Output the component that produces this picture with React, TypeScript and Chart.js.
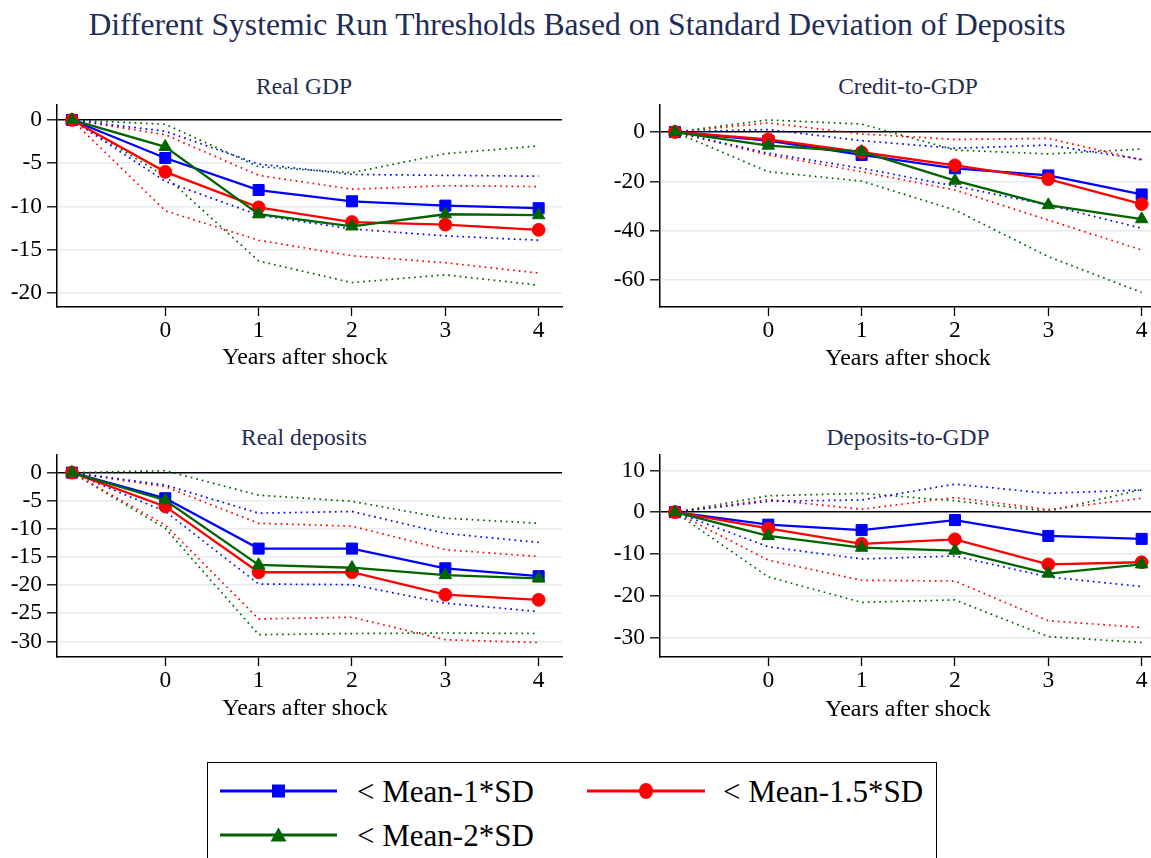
import React, { useEffect, useRef } from "react";
import { Chart, registerables } from "chart.js";

Chart.register(...registerables);

// ---------- data ----------
const years = [-1, 0, 1, 2, 3, 4];
const xTickValues = [0, 1, 2, 3, 4];

const seriesLabels = ["< Mean-1*SD", "< Mean-1.5*SD", "< Mean-2*SD"];
const mainTitle = "Different Systemic Run Thresholds Based on Standard Deviation of Deposits";
const xAxisTitle = "Years after shock";

// Real GDP
const gdpTicks = [0, -5, -10, -15, -20];
const gdpSD1 = [0, -4.4, -8.1, -9.4, -9.9, -10.2];
const gdpSD15 = [0, -6.0, -10.1, -11.8, -12.1, -12.7];
const gdpSD2 = [0, -3.1, -10.9, -12.3, -10.9, -11.0];
const gdpSD1Hi = [0, -1.3, -5.1, -6.3, -6.4, -6.5];
const gdpSD1Lo = [0, -7.1, -11.0, -12.6, -13.4, -13.9];
const gdpSD15Hi = [0, -1.7, -6.4, -8.0, -7.6, -7.7];
const gdpSD15Lo = [0, -10.5, -13.9, -15.7, -16.5, -17.7];
const gdpSD2Hi = [0, -0.5, -5.4, -6.1, -3.9, -3.0];
const gdpSD2Lo = [0, -6.5, -16.3, -18.8, -17.9, -19.1];

// Credit-to-GDP
const credTicks = [0, -20, -40, -60];
const credSD1 = [0, -3.5, -9.3, -14.7, -17.6, -25.3];
const credSD15 = [0, -3.0, -8.2, -13.5, -19.1, -29.2];
const credSD2 = [0, -5.5, -8.0, -19.7, -29.6, -35.3];
const credSD1Hi = [0, 1.0, -3.5, -6.6, -5.3, -11.1];
const credSD1Lo = [0, -8.6, -14.7, -21.9, -29.6, -39.0];
const credSD15Hi = [0, 3.7, -0.8, -3.0, -2.6, -11.4];
const credSD15Lo = [0, -9.3, -16.1, -23.5, -35.7, -47.8];
const credSD2Hi = [0, 4.9, 3.2, -7.3, -8.9, -6.9];
const credSD2Lo = [0, -16.1, -19.9, -31.6, -50.5, -65.0];

// Real deposits
const depTicks = [0, -5, -10, -15, -20, -25, -30];
const depSD1 = [0, -4.55, -13.5, -13.5, -17.0, -18.4];
const depSD15 = [0, -6.0, -17.7, -17.7, -21.7, -22.6];
const depSD2 = [0, -4.9, -16.4, -16.9, -18.2, -18.8];
const depSD1Hi = [0, -2.2, -7.2, -6.9, -10.8, -12.4];
const depSD1Lo = [0, -6.9, -19.8, -19.9, -23.2, -24.7];
const depSD15Hi = [0, -2.5, -9.0, -9.5, -13.7, -14.9];
const depSD15Lo = [0, -9.3, -26.0, -25.7, -29.7, -30.2];
const depSD2Hi = [0, 0.35, -4.0, -5.1, -8.1, -9.0];
const depSD2Lo = [0, -9.9, -28.8, -28.6, -28.5, -28.6];

// Deposits-to-GDP
const dgdpTicks = [10, 0, -10, -20, -30];
const dgdpSD1 = [0, -3.0, -4.3, -1.9, -5.7, -6.4];
const dgdpSD15 = [0, -3.9, -7.6, -6.5, -12.5, -12.0];
const dgdpSD2 = [0, -5.7, -8.5, -9.2, -14.7, -12.5];
const dgdpSD1Hi = [0, 2.6, 2.9, 6.7, 4.5, 5.3];
const dgdpSD1Lo = [0, -8.3, -11.2, -10.5, -15.5, -17.8];
const dgdpSD15Hi = [0, 3.0, 0.7, 3.5, 0.6, 3.3];
const dgdpSD15Lo = [0, -11.5, -16.3, -16.5, -26.0, -27.6];
const dgdpSD2Hi = [0, 3.9, 4.5, 2.7, 0.2, 5.4];
const dgdpSD2Lo = [0, -15.5, -21.6, -21.0, -29.8, -31.2];

// ---------- style ----------
const BLUE = "#0000ff";
const RED = "#ff0000";
const GREEN = "#006400";
const NAVY = "#1f2d55";
const GRID = "#e4ecef";
const FONT = "'Liberation Serif', 'Times New Roman', serif";
const X_MIN = -1.16;
const X_MAX = 4.25;

type PanelSpec = {
  title: string;
  ticks: number[];
  yMin: number;
  yMax: number;
  sd1: number[];
  sd15: number[];
  sd2: number[];
  sd1Hi: number[];
  sd1Lo: number[];
  sd15Hi: number[];
  sd15Lo: number[];
  sd2Hi: number[];
  sd2Lo: number[];
};

const panels: PanelSpec[] = [
  { title: "Real GDP", ticks: gdpTicks, yMin: -21.62, yMax: 1.73, sd1: gdpSD1, sd15: gdpSD15, sd2: gdpSD2, sd1Hi: gdpSD1Hi, sd1Lo: gdpSD1Lo, sd15Hi: gdpSD15Hi, sd15Lo: gdpSD15Lo, sd2Hi: gdpSD2Hi, sd2Lo: gdpSD2Lo },
  { title: "Credit-to-GDP", ticks: credTicks, yMin: -70.9, yMax: 10.94, sd1: credSD1, sd15: credSD15, sd2: credSD2, sd1Hi: credSD1Hi, sd1Lo: credSD1Lo, sd15Hi: credSD15Hi, sd15Lo: credSD15Lo, sd2Hi: credSD2Hi, sd2Lo: credSD2Lo },
  { title: "Real deposits", ticks: depTicks, yMin: -32.77, yMax: 3.14, sd1: depSD1, sd15: depSD15, sd2: depSD2, sd1Hi: depSD1Hi, sd1Lo: depSD1Lo, sd15Hi: depSD15Hi, sd15Lo: depSD15Lo, sd2Hi: depSD2Hi, sd2Lo: depSD2Lo },
  { title: "Deposits-to-GDP", ticks: dgdpTicks, yMin: -34.67, yMax: 13.67, sd1: dgdpSD1, sd15: dgdpSD15, sd2: dgdpSD2, sd1Hi: dgdpSD1Hi, sd1Lo: dgdpSD1Lo, sd15Hi: dgdpSD15Hi, sd15Lo: dgdpSD15Lo, sd2Hi: dgdpSD2Hi, sd2Lo: dgdpSD2Lo },
];

const pts = (arr: number[]) => years.map((x, i) => ({ x, y: arr[i] }));

function ciSet(arr: number[], color: string) {
  return {
    data: pts(arr),
    borderColor: color,
    borderWidth: 1.7,
    borderDash: [1.7, 4],
    pointRadius: 0,
    fill: false,
    tension: 0,
    order: 5,
    clip: false,
  };
}

function mainSet(label: string, arr: number[], color: string, style: string, r: number, order: number) {
  return {
    label,
    data: pts(arr),
    borderColor: color,
    backgroundColor: color,
    borderWidth: 2.3,
    pointStyle: style,
    pointRadius: r,
    pointBackgroundColor: color,
    pointBorderColor: color,
    pointBorderWidth: 1,
    fill: false,
    tension: 0,
    order,
    clip: false,
  };
}

function Panel(props: { spec: PanelSpec; left: number; top: number; width: number; height: number; yAxisWidth: number; padRight: number }) {
  const { spec, left, top, width, height, yAxisWidth, padRight } = props;
  const ref = useRef<HTMLCanvasElement>(null);
  useEffect(() => {
    if (!ref.current) return;
    const chart = new Chart(ref.current, {
      type: "line",
      data: {
        datasets: [
          mainSet(seriesLabels[2], spec.sd2, GREEN, "triangle", 7.2, 0),
          mainSet(seriesLabels[1], spec.sd15, RED, "circle", 6.4, 1),
          mainSet(seriesLabels[0], spec.sd1, BLUE, "rect", 7.8, 2),
          ciSet(spec.sd1Hi, BLUE),
          ciSet(spec.sd1Lo, BLUE),
          ciSet(spec.sd15Hi, RED),
          ciSet(spec.sd15Lo, RED),
          ciSet(spec.sd2Hi, GREEN),
          ciSet(spec.sd2Lo, GREEN),
        ] as any,
      },
      options: {
        animation: false,
        responsive: false,
        maintainAspectRatio: false,
        events: [],
        layout: { padding: { left: 0, top: 10, right: padRight, bottom: 0 } },
        plugins: { legend: { display: false }, tooltip: { enabled: false }, title: { display: false } },
        scales: {
          x: {
            type: "linear",
            min: X_MIN,
            max: X_MAX,
            afterBuildTicks: (s: any) => {
              s.ticks = xTickValues.map((v) => ({ value: v }));
            },
            afterFit: (s: any) => {
              s.height = 38;
              s.paddingLeft = 0;
              s.paddingRight = 0;
              s.paddingTop = 0;
              s.paddingBottom = 0;
            },
            grid: { drawOnChartArea: false, drawTicks: true, tickLength: 9, tickColor: "#000", tickWidth: 1.3 },
            border: { display: true, color: "#000", width: 1.5 },
            ticks: {
              font: { family: FONT, size: 23.5 },
              color: "#000",
              padding: 1,
              maxRotation: 0,
              autoSkip: false,
              callback: (v: any) => String(v),
            },
          },
          y: {
            type: "linear",
            min: spec.yMin,
            max: spec.yMax,
            afterBuildTicks: (s: any) => {
              s.ticks = spec.ticks.map((v) => ({ value: v }));
            },
            afterFit: (s: any) => {
              s.width = yAxisWidth;
              s.paddingLeft = 0;
              s.paddingRight = 0;
              s.paddingTop = 0;
              s.paddingBottom = 0;
            },
            grid: {
              drawTicks: true,
              tickLength: 10,
              tickColor: "#000",
              tickWidth: 1.3,
              color: (ctx: any) => (ctx.tick && ctx.tick.value === 0 ? "#000" : GRID),
              lineWidth: 1.6,
            },
            border: { display: true, color: "#000", width: 1.5 },
            ticks: {
              font: { family: FONT, size: 23.5 },
              color: "#000",
              padding: 5,
              autoSkip: false,
              callback: (v: any) => String(v),
            },
          },
        },
      } as any,
    });
    return () => chart.destroy();
  }, []);
  return <canvas ref={ref} width={width} height={height} style={{ position: "absolute", left, top, width, height }} />;
}

function TextAt(props: { text: string; cx?: number; left?: number; cy: number; size: number; color: string }) {
  const h = Math.round(props.size * 1.4);
  const style: React.CSSProperties = {
    position: "absolute",
    top: props.cy - h / 2,
    height: h,
    lineHeight: `${h}px`,
    fontSize: props.size,
    fontFamily: FONT,
    color: props.color,
    whiteSpace: "nowrap",
  };
  if (props.cx !== undefined) {
    style.left = props.cx - 600;
    style.width = 1200;
    style.textAlign = "center";
  } else {
    style.left = props.left;
  }
  return <div style={style}>{props.text}</div>;
}

function LegendKey(props: { x1: number; x2: number; cy: number; color: string; shape: string }) {
  const { x1, x2, cy, color, shape } = props;
  const w = x2 - x1;
  const mx = w / 2;
  let marker: React.ReactNode = null;
  if (shape === "rect") marker = <rect x={mx - 6.5} y={14 - 6.5} width={13} height={13} fill={color} />;
  if (shape === "circle") marker = <ellipse cx={mx} cy={14} rx={7} ry={8} fill={color} />;
  if (shape === "triangle") marker = <polygon points={`${mx - 8},${14 + 6.5} ${mx + 8},${14 + 6.5} ${mx},${14 - 7.5}`} fill={color} />;
  return (
    <svg width={w} height={28} style={{ position: "absolute", left: x1, top: cy - 14 }}>
      <line x1={0} y1={14} x2={w} y2={14} stroke={color} strokeWidth={2.8} />
      {marker}
    </svg>
  );
}

export default function App() {
  useEffect(() => {
    document.body.style.margin = "0";
  }, []);
  return (
    <div style={{ position: "absolute", left: 0, top: 0, width: 1151, height: 858, overflow: "hidden", background: "#fff", fontFamily: FONT }}>
      <TextAt text={mainTitle} cx={577} cy={25} size={31.6} color={NAVY} />

      <TextAt text={panels[0].title} cx={304} cy={86} size={23.5} color={NAVY} />
      <TextAt text={panels[1].title} cx={908} cy={86} size={23.5} color={NAVY} />
      <TextAt text={panels[2].title} cx={304} cy={437} size={23.5} color={NAVY} />
      <TextAt text={panels[3].title} cx={908} cy={437} size={23.5} color={NAVY} />

      <Panel spec={panels[0]} left={0} top={95} width={575} height={250} yAxisWidth={57} padRight={13} />
      <Panel spec={panels[1]} left={580} top={95} width={600} height={250} yAxisWidth={80} padRight={15} />
      <Panel spec={panels[2]} left={0} top={445} width={575} height={250} yAxisWidth={57} padRight={13} />
      <Panel spec={panels[3]} left={580} top={445} width={600} height={250} yAxisWidth={80} padRight={15} />

      <TextAt text={xAxisTitle} cx={305} cy={356} size={24} color="#000" />
      <TextAt text={xAxisTitle} cx={908} cy={357} size={24} color="#000" />
      <TextAt text={xAxisTitle} cx={305} cy={707} size={24} color="#000" />
      <TextAt text={xAxisTitle} cx={908} cy={708} size={24} color="#000" />

      <div style={{ position: "absolute", left: 207, top: 762, width: 730, height: 130, border: "1.5px solid #000", boxSizing: "border-box" }} />
      <LegendKey x1={220} x2={337} cy={791} color={BLUE} shape="rect" />
      <TextAt text={seriesLabels[0]} left={357} cy={791} size={31} color="#000" />
      <LegendKey x1={587} x2={705} cy={791} color={RED} shape="circle" />
      <TextAt text={seriesLabels[1]} left={723} cy={791} size={31} color="#000" />
      <LegendKey x1={220} x2={337} cy={835} color={GREEN} shape="triangle" />
      <TextAt text={seriesLabels[2]} left={357} cy={835} size={31} color="#000" />
    </div>
  );
}
